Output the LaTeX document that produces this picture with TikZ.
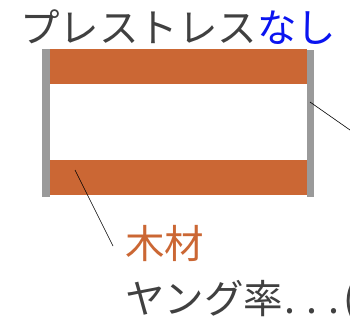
\documentclass[tikz,border=0pt]{standalone}
\usepackage{fontspec}
\newfontfamily\jp{Noto Sans CJK JP}
\definecolor{wood}{HTML}{CB6734}
\definecolor{steel}{HTML}{9A9A9A}
\definecolor{txt}{HTML}{404040}
\definecolor{nablue}{HTML}{0A14F0}
\tikzset{
  woodbar/.style={fill=wood, draw=none},
  steelbar/.style={fill=steel, draw=none},
  lbl/.style={inner sep=0pt, font=\jp\fontsize{39.5}{39.5}\selectfont, text=txt},
  leader/.style={draw=black, line width=0.6pt}
}
\begin{document}
\begin{tikzpicture}[x=1pt,y=-1pt]
\useasboundingbox (0,0) rectangle (350,326);
\clip (0,0) rectangle (350,326);
\fill[woodbar] (50,49) rectangle (307,84);
\fill[woodbar] (50,160) rectangle (307,195);
\fill[steelbar] (42,49) rectangle (50,197);
\fill[steelbar] (307,50) rectangle (314,197);
\node[lbl, anchor=base west] (title) at (20,43) {プレストレス\textcolor{nablue}{なし}};
\node[lbl, anchor=base west, text=wood] (wood) at (125,258) {木材};
\node[lbl, anchor=base west] (young) at (125,313) {ヤング率\kern1pt.\kern11pt.\kern11pt.\kern4pt(};
\coordinate (a1) at (75,170);
\coordinate (a2) at (113,246);
\coordinate (b1) at (310,102);
\coordinate (b2) at (360,137);
\draw[leader] (a1) -- (a2);
\draw[leader] (b1) -- (b2);
\end{tikzpicture}
\end{document}
